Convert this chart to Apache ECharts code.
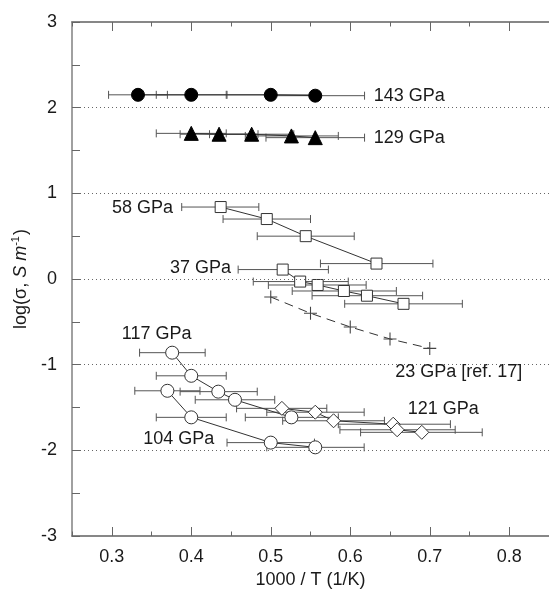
<!DOCTYPE html>
<html>
<head>
<meta charset="utf-8">
<script src="https://cdn.jsdelivr.net/npm/echarts@6/dist/echarts.min.js"></script>
<style>html,body{margin:0;padding:0;background:#fff;}#c{width:549px;height:598px;}</style>
</head>
<body>
<div id="c"></div>
<script>
// ---- data (x = 1000/T, y = log sigma; lo/hi = x error bar ends) ----
const x143 = [0.333, 0.400, 0.500, 0.556];
const y143 = [2.15, 2.15, 2.15, 2.14];
const lo143 = [0.296, 0.356, 0.444, 0.494];
const hi143 = [0.370, 0.445, 0.556, 0.618];

const x129 = [0.400, 0.435, 0.476, 0.526, 0.556];
const y129 = [1.70, 1.69, 1.69, 1.67, 1.65];
const lo129 = [0.356, 0.386, 0.423, 0.468, 0.494];
const hi129 = [0.444, 0.484, 0.529, 0.585, 0.618];

const x58 = [0.437, 0.495, 0.544, 0.633];
const y58 = [0.84, 0.70, 0.50, 0.18];
const lo58 = [0.388, 0.440, 0.483, 0.5625];
const hi58 = [0.485, 0.550, 0.605, 0.704];

const x37 = [0.515, 0.537, 0.559, 0.592, 0.621, 0.667];
const y37 = [0.11, -0.03, -0.07, -0.14, -0.195, -0.29];
const lo37 = [0.459, 0.478, 0.497, 0.527, 0.552, 0.593];
const hi37 = [0.5725, 0.5975, 0.620, 0.658, 0.691, 0.741];

const x23 = [0.50, 0.55, 0.60, 0.65, 0.70];
const y23 = [-0.21, -0.40, -0.56, -0.70, -0.81];

const x117 = [0.376, 0.400, 0.434, 0.455, 0.526];
const y117 = [-0.86, -1.13, -1.315, -1.41, -1.615];
const lo117 = [0.335, 0.356, 0.386, 0.405, 0.468];
const hi117 = [0.4175, 0.444, 0.483, 0.505, 0.585];

const x104 = [0.370, 0.400, 0.500, 0.556];
const y104 = [-1.305, -1.615, -1.91, -1.965];
const lo104 = [0.329, 0.356, 0.445, 0.495];
const hi104 = [0.411, 0.444, 0.555, 0.6175];

const x121 = [0.514, 0.556, 0.579, 0.654, 0.659, 0.690];
const y121 = [-1.51, -1.555, -1.655, -1.695, -1.76, -1.79];
const lo121 = [0.457, 0.495, 0.515, 0.585, 0.587, 0.613];
const hi121 = [0.5705, 0.6175, 0.643, 0.726, 0.732, 0.766];

const labelText = ['143 GPa', '129 GPa', '58 GPa', '37 GPa', '23 GPa [ref. 17]', '117 GPa', '104 GPa', '121 GPa'];
const labelX = [0.629, 0.629, 0.2996, 0.3725, 0.656, 0.312, 0.339, 0.6716];
const labelY = [2.136, 1.646, 0.829, 0.128, -1.085, -0.642, -1.867, -1.517];

const xTicks = [0.3, 0.4, 0.5, 0.6, 0.7, 0.8];
const xMinorTicks = [0.25, 0.35, 0.45, 0.55, 0.65, 0.75, 0.85];
const yTicks = [-3, -2, -1, 0, 1, 2, 3];
const yGrid = [-2, -1, 0, 1, 2];

// ---- helpers ----
const FONT = '"Liberation Sans", Arial, Helvetica, sans-serif';
const TXT = '#1a1a1a';
function pts(xs, ys) { return xs.map((x, i) => [x, ys[i]]); }
function errRows(lo, hi, ys) { return ys.map((y, i) => [lo[i], hi[i], y]); }

function errSeries(lo, hi, ys) {
  return {
    type: 'custom', z: 1, silent: true,
    data: errRows(lo, hi, ys),
    encode: { x: [0, 1], y: 2 },
    renderItem: function (params, api) {
      const a = api.coord([api.value(0), api.value(2)]);
      const b = api.coord([api.value(1), api.value(2)]);
      const c = 4;
      const st = { stroke: '#555', lineWidth: 1 };
      return {
        type: 'group',
        children: [
          { type: 'line', shape: { x1: a[0], y1: a[1], x2: b[0], y2: b[1] }, style: st },
          { type: 'line', shape: { x1: a[0], y1: a[1] - c, x2: a[0], y2: a[1] + c }, style: st },
          { type: 'line', shape: { x1: b[0], y1: b[1] - c, x2: b[0], y2: b[1] + c }, style: st }
        ]
      };
    }
  };
}

function lineSeries(xs, ys, symbol, size, filled, dashed) {
  return {
    type: 'line', z: 3, silent: true,
    data: pts(xs, ys),
    symbol: symbol, symbolSize: size, showAllSymbol: true,
    lineStyle: { color: '#333', width: 1, type: dashed ? [9, 6] : 'solid' },
    itemStyle: filled
      ? { color: '#000', borderColor: '#000', borderWidth: 1 }
      : { color: '#fff', borderColor: '#333', borderWidth: 1 }
  };
}

const PLUS = 'path://M5.5,0H6.5V12H5.5Z M0,5.5H12V6.5H0Z';
const AXIS_LINE = { show: true, onZero: false, lineStyle: { color: '#808080', width: 1.5 } };

function xAx(pos, major, showLabels, extra) {
  return Object.assign({
    type: 'value', min: 0.25, max: 0.85, interval: 0.05,
    position: pos,
    axisLine: AXIS_LINE,
    axisTick: { show: true, inside: true, length: major ? 9 : 4.5, lineStyle: { color: '#666' },
      customValues: major ? xTicks : xMinorTicks },
    axisLabel: showLabels
      ? { show: true, fontSize: 18, color: TXT, fontFamily: FONT, margin: 12,
          customValues: xTicks, formatter: v => v.toFixed(1) }
      : { show: false },
    splitLine: { show: false }
  }, extra || {});
}

const chart = echarts.init(document.getElementById('c'), null, { renderer: 'canvas' });

const option = {
  animation: false,
  backgroundColor: '#fff',
  grid: { left: 72, top: 22, width: 480, height: 514, containLabel: false },
  xAxis: [
    xAx('bottom', true, true, {
      name: '1000 / T (1/K)', nameLocation: 'middle', nameGap: 34,
      nameTextStyle: { fontSize: 18, color: TXT, fontFamily: FONT }
    }),
    xAx('bottom', false, false),
    xAx('top', true, false),
    xAx('top', false, false)
  ],
  yAxis: {
    type: 'value', min: -3, max: 3, interval: 0.5,
    name: '{n|log(σ, }{i|S m}{s|-1}{n|)}',
    nameLocation: 'middle', nameGap: 37,
    nameTextStyle: {
      fontSize: 18, color: TXT, fontFamily: FONT,
      rich: {
        n: { fontSize: 18, color: TXT, fontFamily: FONT, lineHeight: 22 },
        i: { fontSize: 18, color: TXT, fontFamily: FONT, fontStyle: 'italic', lineHeight: 22 },
        s: { fontSize: 11, color: TXT, fontFamily: FONT, verticalAlign: 'top', lineHeight: 22, padding: [0, 1, 9, 0] }
      }
    },
    axisLine: AXIS_LINE,
    axisTick: { show: true, inside: true, length: 8, lineStyle: { color: '#666' } },
    axisLabel: {
      fontSize: 18, color: TXT, fontFamily: FONT, margin: 15,
      customValues: yTicks,
      formatter: v => String(Math.round(v))
    },
    splitLine: { show: false }
  },
  series: []
};

// dotted gridlines at integer values
option.series.push({
  type: 'line', data: [], z: 0, silent: true,
  markLine: {
    silent: true, symbol: 'none', animation: false,
    label: { show: false },
    lineStyle: { color: '#666', width: 1, type: [1, 3] },
    data: yGrid.map(t => ({ yAxis: t }))
  }
});

option.series.push(
  errSeries(lo143, hi143, y143),
  errSeries(lo129, hi129, y129),
  errSeries(lo58, hi58, y58),
  errSeries(lo37, hi37, y37),
  errSeries(lo117, hi117, y117),
  errSeries(lo104, hi104, y104),
  errSeries(lo121, hi121, y121),
  lineSeries(x143, y143, 'circle', 13, true),
  lineSeries(x129, y129, 'triangle', 14, true),
  lineSeries(x58, y58, 'rect', 11, false),
  lineSeries(x37, y37, 'rect', 11, false),
  Object.assign(lineSeries(x23, y23, PLUS, 13, true, true), { itemStyle: { color: '#444', borderWidth: 0 } }),
  lineSeries(x117, y117, 'circle', 13, false),
  lineSeries(x104, y104, 'circle', 13, false),
  lineSeries(x121, y121, 'diamond', 14, false),
  {
    type: 'scatter', z: 5, silent: true,
    symbolSize: 1, itemStyle: { color: 'rgba(0,0,0,0)', opacity: 1 },
    data: labelText.map((t, i) => ({ name: t, value: [labelX[i], labelY[i]] })),
    label: {
      show: true, position: 'right', distance: 0, opacity: 1,
      formatter: p => p.name,
      fontSize: 18, color: TXT, fontFamily: FONT
    },
    labelLayout: { hideOverlap: false }
  }
);

chart.setOption(option);
</script>
</body>
</html>
